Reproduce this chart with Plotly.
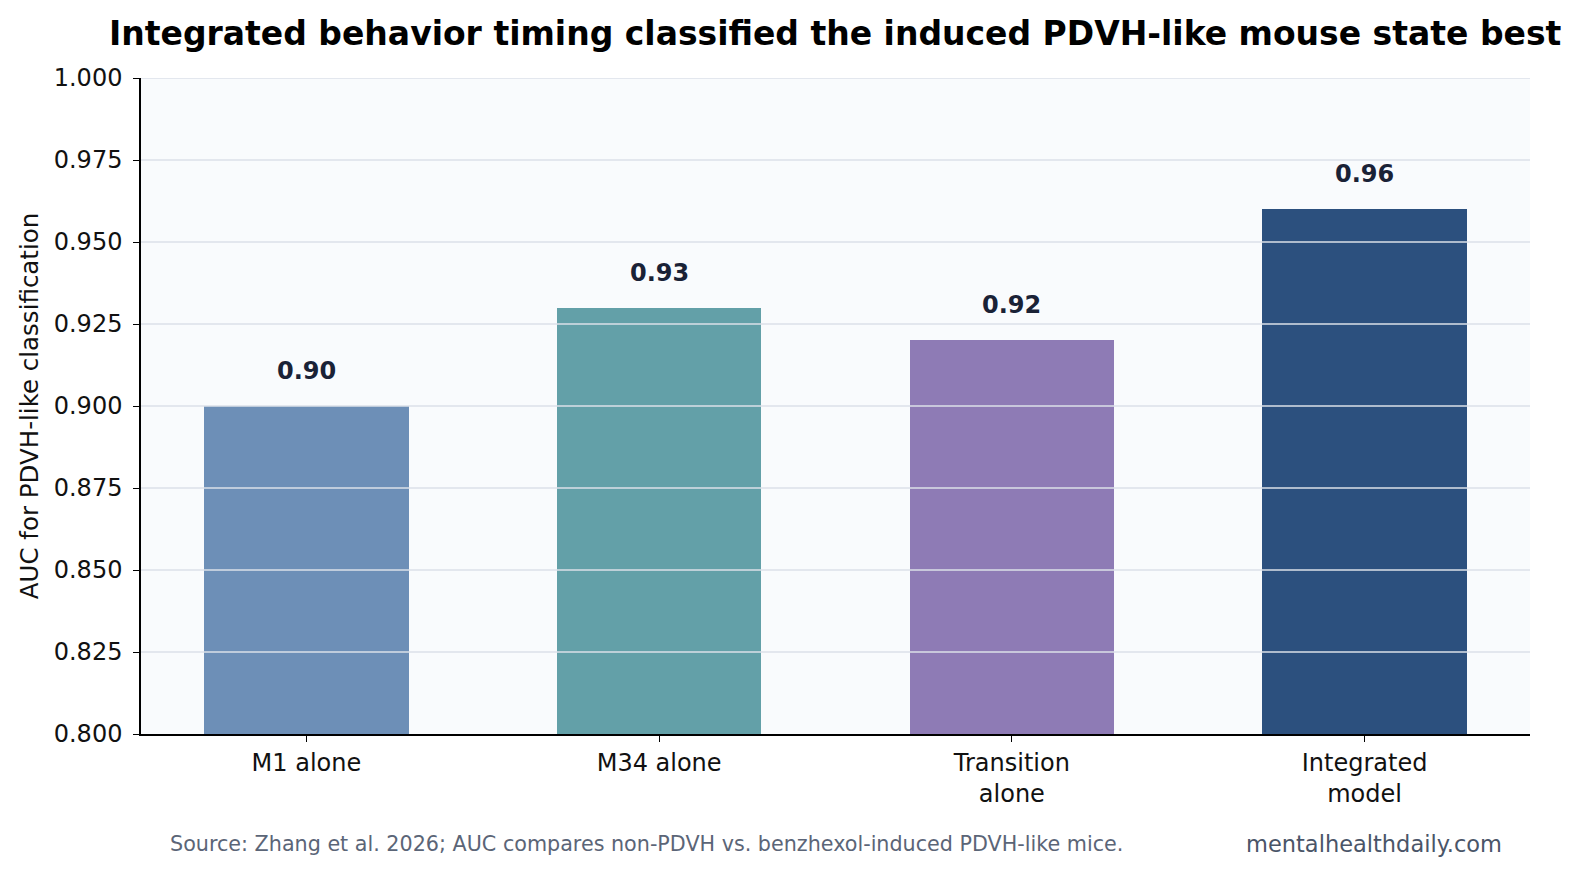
import plotly.graph_objects as go

categories = ["M1 alone", "M34 alone", "Transition<br>alone", "Integrated<br>model"]
auc_values = [0.90, 0.93, 0.92, 0.96]
value_labels = ["0.90", "0.93", "0.92", "0.96"]
bar_colors = ["#6d8fb7", "#63a0a8", "#8e7bb5", "#2c507e"]
y_ticks = [0.800, 0.825, 0.850, 0.875, 0.900, 0.925, 0.950, 0.975, 1.000]

FONT = "DejaVu Sans"

fig = go.Figure()
fig.add_trace(go.Bar(
    x=list(range(len(categories))),
    y=auc_values,
    width=0.58,
    marker=dict(color=bar_colors, line=dict(width=0)),
    hoverinfo="skip",
))

for i, (v, lab) in enumerate(zip(auc_values, value_labels)):
    fig.add_annotation(x=i, y=v, text="<b>" + lab + "</b>", showarrow=False,
                       yanchor="middle", yshift=35,
                       font=dict(family=FONT, size=24, color="#1a2236"))

# gridlines drawn above bars
for t in y_ticks[1:]:
    fig.add_shape(type="line", xref="paper", x0=0, x1=1, yref="y", y0=t, y1=t,
                  line=dict(color="#dbe1e8", width=1.3), layer="above")

fig.add_annotation(xref="paper", yref="paper", x=0.5, y=1, yshift=45,
                   text="<b>Integrated behavior timing classified the induced PDVH-like mouse state best</b>",
                   showarrow=False, xanchor="center", yanchor="middle",
                   font=dict(family=FONT, size=33, color="#000000"))

fig.add_annotation(xref="paper", yref="paper", x=0, y=0, xshift=27, yshift=-110,
                   text="Source: Zhang et al. 2026; AUC compares non-PDVH vs. benzhexol-induced PDVH-like mice.",
                   showarrow=False, xanchor="left", yanchor="middle",
                   font=dict(family=FONT, size=20.7, color="#5b6577"))
fig.add_annotation(xref="paper", yref="paper", x=1, y=0, xshift=-26, yshift=-110,
                   text="mentalhealthdaily.com",
                   showarrow=False, xanchor="right", yanchor="middle",
                   font=dict(family=FONT, size=22.5, color="#4a5568"))

fig.update_layout(
    width=1579, height=875,
    margin=dict(l=141, r=49, t=78, b=141),
    paper_bgcolor="white",
    plot_bgcolor="#f9fbfd",
    showlegend=False,
    font=dict(family=FONT, size=24, color="#000000"),
    bargap=0,
)
fig.update_xaxes(
    tickmode="array", tickvals=list(range(len(categories))), ticktext=categories,
    range=[-0.469, 3.469], showgrid=False, zeroline=False,
    showline=True, linecolor="black", linewidth=1.5,
    ticks="outside", ticklen=6, tickwidth=1.3, tickcolor="black",
    tickfont=dict(family=FONT, size=24, color="#111111"),
)
fig.update_yaxes(
    range=[0.8, 1.0], tickmode="array", tickvals=y_ticks,
    ticktext=["%.3f" % t for t in y_ticks],
    showgrid=False, zeroline=False,
    showline=True, linecolor="black", linewidth=1.5,
    ticks="outside", ticklen=6, tickwidth=1.3, tickcolor="black",
    ticklabelstandoff=6,
    tickfont=dict(family=FONT, size=24, color="#111111"),
    title=dict(text="AUC for PDVH-like classification", standoff=8,
               font=dict(family=FONT, size=24.5, color="#111111")),
)

fig.write_html("out.html")
